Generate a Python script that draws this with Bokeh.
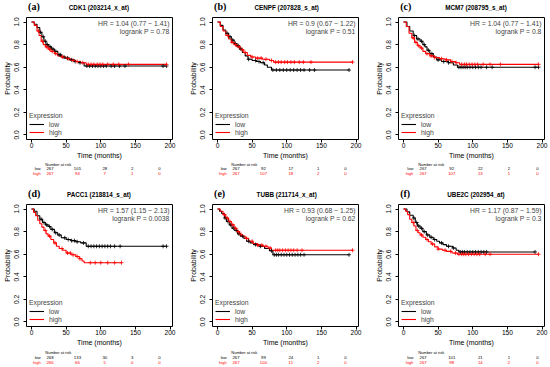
import numpy as np
from bokeh.plotting import figure
from bokeh.layouts import row, column
from bokeh.models import Range1d, FixedTicker, NumeralTickFormatter, Label
from bokeh.core.properties import value
from bokeh.embed import file_html
from bokeh.resources import INLINE

# ---------------- data ----------------
x_ticks = [0, 50, 100, 150, 200]
y_ticks = [0.0, 0.2, 0.4, 0.6, 0.8, 1.0]
risk_times = [0, 50, 100, 150, 200]

# (a) CDK1
a_low_t = [0, 4, 8, 12, 15, 18, 21, 25, 29, 33, 38, 43, 48, 55, 62, 68, 76, 195]
a_low_s = [1.0, 0.98, 0.95, 0.91, 0.87, 0.83, 0.80, 0.78, 0.76, 0.74, 0.71, 0.69, 0.68, 0.665, 0.65, 0.64, 0.61, 0.61]
a_high_t = [0, 4, 8, 11, 14, 17, 20, 24, 28, 33, 38, 43, 50, 57, 64, 71, 79, 195]
a_high_s = [1.0, 0.97, 0.92, 0.88, 0.83, 0.80, 0.78, 0.76, 0.74, 0.72, 0.70, 0.69, 0.675, 0.66, 0.65, 0.64, 0.625, 0.625]
a_low_cens = [13, 17, 20, 23, 27, 31, 35, 40, 42, 47, 52, 58, 63, 70, 80, 84, 88, 92, 96, 100, 104, 108, 115, 120, 127, 135, 190, 195]
a_high_cens = [10, 16, 22, 26, 30, 35, 45, 53, 60, 66, 74, 82, 86, 90, 95, 99, 103, 110, 118, 126, 140, 195]
a_risk_low = [267, 105, 28, 2, 0]
a_risk_high = [267, 94, 7, 1, 0]

# (b) CENPF
b_low_t = [0, 4, 8, 12, 16, 20, 24, 28, 32, 36, 40, 44, 50, 56, 62, 68, 72, 78, 190]
b_low_s = [1.0, 0.97, 0.93, 0.90, 0.87, 0.84, 0.81, 0.79, 0.76, 0.73, 0.70, 0.67, 0.66, 0.65, 0.64, 0.62, 0.60, 0.575, 0.575]
b_high_t = [0, 4, 8, 12, 16, 20, 24, 28, 33, 38, 43, 48, 55, 65, 75, 81, 195]
b_high_s = [1.0, 0.96, 0.92, 0.88, 0.85, 0.82, 0.80, 0.78, 0.755, 0.73, 0.705, 0.69, 0.68, 0.67, 0.66, 0.645, 0.645]
b_low_cens = [14, 18, 22, 26, 30, 34, 45, 55, 60, 66, 80, 85, 90, 95, 100, 105, 110, 115, 120, 125, 133, 140, 190]
b_high_cens = [15, 21, 26, 31, 36, 40, 50, 58, 63, 70, 78, 84, 88, 92, 97, 101, 106, 111, 118, 124, 135, 195]
b_risk_low = [267, 92, 17, 1, 0]
b_risk_high = [267, 107, 18, 2, 0]

# (c) MCM7
c_low_t = [0, 5, 9, 14, 19, 24, 28, 31, 34, 38, 43, 48, 55, 65, 72, 78, 195]
c_low_s = [1.0, 0.96, 0.92, 0.88, 0.85, 0.83, 0.80, 0.78, 0.75, 0.72, 0.69, 0.665, 0.65, 0.64, 0.62, 0.60, 0.60]
c_high_t = [0, 4, 8, 12, 16, 20, 24, 28, 32, 38, 45, 52, 60, 68, 75, 81, 195]
c_high_s = [1.0, 0.96, 0.90, 0.86, 0.82, 0.79, 0.77, 0.74, 0.72, 0.70, 0.685, 0.675, 0.665, 0.65, 0.64, 0.625, 0.625]
c_low_cens = [16, 21, 26, 30, 36, 41, 50, 58, 65, 80, 83, 86, 89, 92, 96, 100, 104, 108, 112, 120, 128, 190, 195]
c_high_cens = [14, 18, 22, 26, 34, 40, 45, 55, 62, 70, 76, 84, 88, 91, 95, 99, 103, 107, 115, 125, 140, 195]
c_risk_low = [267, 92, 22, 2, 0]
c_risk_high = [267, 107, 13, 1, 0]

# (d) PACC1
d_low_t = [0, 4, 8, 12, 16, 20, 24, 28, 33, 38, 43, 50, 57, 64, 71, 79, 195]
d_low_s = [1.0, 0.98, 0.94, 0.91, 0.88, 0.86, 0.845, 0.82, 0.79, 0.77, 0.745, 0.73, 0.72, 0.71, 0.70, 0.67, 0.67]
d_high_t = [0, 3, 6, 9, 12, 15, 18, 21, 24, 28, 32, 36, 40, 45, 50, 57, 64, 69, 73, 76, 130]
d_high_s = [1.0, 0.97, 0.94, 0.90, 0.87, 0.84, 0.81, 0.78, 0.76, 0.73, 0.70, 0.67, 0.65, 0.635, 0.61, 0.595, 0.58, 0.56, 0.54, 0.525, 0.525]
d_low_cens = [14, 18, 22, 26, 30, 35, 40, 48, 53, 58, 62, 66, 75, 82, 86, 90, 94, 98, 102, 106, 110, 114, 120, 128, 190, 195]
d_high_cens = [20, 26, 34, 44, 52, 56, 60, 66, 70, 85, 92, 100, 110, 120, 130]
d_risk_low = [268, 133, 30, 3, 0]
d_risk_high = [266, 66, 5, 0, 0]

# (e) TUBB
e_low_t = [0, 3, 6, 10, 13, 17, 21, 25, 29, 33, 38, 42, 47, 52, 60, 68, 75, 80, 190]
e_low_s = [1.0, 0.98, 0.96, 0.92, 0.89, 0.86, 0.83, 0.81, 0.78, 0.76, 0.74, 0.715, 0.70, 0.685, 0.67, 0.65, 0.63, 0.595, 0.595]
e_high_t = [0, 4, 8, 12, 16, 20, 24, 28, 32, 36, 40, 45, 51, 58, 66, 73, 78, 195]
e_high_s = [1.0, 0.98, 0.95, 0.92, 0.89, 0.86, 0.83, 0.80, 0.775, 0.76, 0.74, 0.715, 0.695, 0.68, 0.67, 0.655, 0.635, 0.635]
e_low_cens = [11, 15, 19, 23, 27, 31, 36, 45, 55, 62, 78, 82, 85, 88, 92, 96, 100, 104, 108, 112, 116, 120, 125, 190]
e_high_cens = [10, 14, 18, 22, 26, 30, 34, 42, 50, 58, 64, 70, 76, 84, 87, 90, 94, 98, 102, 106, 110, 115, 122, 195]
e_risk_low = [267, 99, 24, 1, 0]
e_risk_high = [267, 100, 11, 2, 0]

# (f) UBE2C
f_low_t = [0, 5, 9, 14, 17, 20, 24, 28, 33, 38, 43, 48, 52, 57, 62, 71, 76, 80, 190]
f_low_s = [1.0, 0.975, 0.945, 0.92, 0.88, 0.85, 0.83, 0.80, 0.77, 0.75, 0.73, 0.715, 0.70, 0.685, 0.67, 0.655, 0.635, 0.62, 0.62]
f_high_t = [0, 3, 6, 9, 12, 15, 18, 21, 24, 28, 32, 36, 40, 45, 50, 56, 62, 70, 78, 195]
f_high_s = [1.0, 0.98, 0.95, 0.91, 0.88, 0.85, 0.81, 0.79, 0.77, 0.75, 0.73, 0.71, 0.69, 0.665, 0.645, 0.635, 0.625, 0.61, 0.60, 0.60]
f_low_cens = [15, 19, 22, 26, 30, 35, 40, 45, 55, 65, 72, 82, 85, 88, 92, 96, 100, 104, 108, 112, 116, 120, 190]
f_high_cens = [14, 20, 26, 34, 42, 50, 60, 68, 75, 80, 84, 87, 90, 94, 98, 102, 106, 110, 118, 125, 195]
f_risk_low = [267, 101, 21, 1, 0]
f_risk_high = [267, 98, 14, 2, 0]

letters = ["(a)", "(b)", "(c)", "(d)", "(e)", "(f)"]
titles = ["CDK1   (203214_x_at)", "CENPF (207828_s_at)", "MCM7 (208795_s_at)",
          "PACC1   (218814_s_at)", "TUBB (211714_x_at)", "UBE2C (202954_at)"]
hr_texts = ["HR = 1.04 (0.77 \u2212 1.41)", "HR = 0.9 (0.67 \u2212 1.22)", "HR = 1.04 (0.77 \u2212 1.41)",
            "HR = 1.57 (1.15 \u2212 2.13)", "HR = 0.93 (0.68 \u2212 1.25)", "HR = 1.17 (0.87 \u2212 1.59)"]
p_texts = ["logrank P = 0.78", "logrank P = 0.51", "logrank P = 0.8",
           "logrank P = 0.0038", "logrank P = 0.62", "logrank P = 0.3"]
legend_title = "Expression"
group_labels = ["low", "high"]
risk_header = "Number at risk"

# ---------------- layout constants ----------------
X0, X1 = -7.2, 203.6
Y0, Y1 = -0.04, 1.04
FW, FH = 147, 124
TOP_H = 14
KM_TOP, KM_BOTTOM = 3, 20
SANS = "Liberation Sans"
SERIF = "Liberation Serif"
RED = "#FF0000"


def dx(px):
    return px * (X1 - X0) / FW


def step_at(t, s, c):
    idx = np.searchsorted(np.asarray(t), np.asarray(c), side="right") - 1
    return np.asarray(s)[idx]


def blank_fig(w, h, xr):
    p = figure(width=w, height=h, x_range=xr, y_range=Range1d(0, h),
               output_backend="svg", toolbar_location=None,
               x_axis_location=None, y_axis_location=None,
               min_border=0, min_border_left=0, min_border_right=0,
               min_border_top=0, min_border_bottom=0)
    p.xgrid.visible = False
    p.ygrid.visible = False
    p.outline_line_color = None
    p.background_fill_color = "white"
    p.border_fill_color = "white"
    return p


def txt(p, x, y, text, size, color="black", align="left", font=SANS, style="normal"):
    p.text(x=x, y=y, text=text, text_font=value(font), text_font_size=value(f"{size}px"),
           text_color=color, text_align=align, text_baseline="middle", text_font_style=style)


def panel(i, lt, ls, ht, hs, lc, hc, rl, rh, left, right, risk_h, risk_y):
    colw = left + FW + right
    # ---- header: panel letter + title ----
    top = blank_fig(colw, TOP_H, Range1d(0, colw))
    txt(top, [left + FW / 2 - 4], [TOP_H - 7.3], [titles[i]], 6.3, align="center", style="bold")
    txt(top, [left - 23], [TOP_H - 6.3], [letters[i]], 10, font=SERIF, style="bold")

    # ---- Kaplan-Meier plot ----
    p = figure(width=colw, height=KM_TOP + FH + KM_BOTTOM,
               x_range=Range1d(X0, X1), y_range=Range1d(Y0, Y1),
               output_backend="svg", toolbar_location=None,
               min_border_left=left, min_border_right=right,
               min_border_top=KM_TOP, min_border_bottom=KM_BOTTOM)
    p.xgrid.visible = False
    p.ygrid.visible = False
    p.outline_line_color = "black"
    p.outline_line_alpha = 1.0
    p.outline_line_width = 1
    p.background_fill_color = "white"
    p.border_fill_color = "white"

    for ax in (p.xaxis[0], p.yaxis[0]):
        ax.axis_line_color = None
        ax.major_tick_line_color = "black"
        ax.major_tick_out = 3
        ax.major_tick_in = 0
        ax.minor_tick_line_color = None
        ax.major_label_text_font = SANS
        ax.major_label_text_font_size = "6.6px"
        ax.major_label_text_color = "black"
        ax.axis_label_text_font = SANS
        ax.axis_label_text_font_size = "7px"
        ax.axis_label_text_font_style = "normal"
        ax.axis_label_text_color = "black"
    p.xaxis.ticker = FixedTicker(ticks=x_ticks)
    p.yaxis.ticker = FixedTicker(ticks=y_ticks)
    p.yaxis.formatter = NumeralTickFormatter(format="0.0")
    p.yaxis.major_label_orientation = "vertical"
    p.xaxis.axis_label = "Time (months)"
    p.yaxis.axis_label = "Probability"
    p.xaxis.major_label_standoff = 0
    p.xaxis.axis_label_standoff = 1
    p.yaxis.major_label_standoff = 4
    p.yaxis.axis_label_standoff = 1

    p.step(lt, ls, mode="after", line_color="black", line_width=1.1, legend_label=group_labels[0])
    p.step(ht, hs, mode="after", line_color=RED, line_width=1.1, legend_label=group_labels[1])
    p.scatter(lc, step_at(lt, ls, lc), marker="cross", size=4, line_color="black", line_width=0.8)
    p.scatter(hc, step_at(ht, hs, hc), marker="cross", size=4, line_color=RED, line_width=0.8)

    lg = p.legend[0]
    lg.title = legend_title
    lg.title_text_font = SANS
    lg.title_text_font_size = "6.8px"
    lg.title_text_font_style = "normal"
    lg.title_standoff = 1
    lg.label_text_font = SANS
    lg.label_text_font_size = "6.8px"
    lg.label_height = 8
    lg.glyph_height = 8
    lg.glyph_width = 15
    lg.label_standoff = 5
    lg.spacing = 0
    lg.padding = 0
    lg.margin = 3
    lg.location = "bottom_left"
    lg.border_line_color = None
    lg.background_fill_alpha = 0.0

    for yy, t in ((0.99, hr_texts[i]), (0.917, p_texts[i])):
        p.add_layout(Label(x=199.3, y=yy, text=t, text_font=SANS, text_font_size="6.8px",
                           text_align="right", text_baseline="middle"))

    # ---- number-at-risk table ----
    risk = blank_fig(colw, risk_h, Range1d(X0 - dx(left), X1 + dx(right)))
    y_hdr, y_low, y_high = [risk_h - v for v in risk_y]
    txt(risk, [X0 - dx(1)], [y_hdr], [risk_header], 4)
    txt(risk, [X0 - dx(7)], [y_low], [group_labels[0]], 4, align="right")
    txt(risk, [X0 - dx(7)], [y_high], [group_labels[1]], 4, color=RED, align="right")
    txt(risk, risk_times, [y_low] * len(risk_times), [str(n) for n in rl], 4.3, align="center")
    txt(risk, risk_times, [y_high] * len(risk_times), [str(n) for n in rh], 4.3, color=RED, align="center")
    return column(top, p, risk)


R1 = (3.0, 7.3, 11.7)
R2 = (3.5, 8.5, 14.0)
pa = panel(0, a_low_t, a_low_s, a_high_t, a_high_s, a_low_cens, a_high_cens, a_risk_low, a_risk_high, 25, 14, 26, R1)
pb = panel(1, b_low_t, b_low_s, b_high_t, b_high_s, b_low_cens, b_high_cens, b_risk_low, b_risk_high, 25, 14, 26, R1)
pc = panel(2, c_low_t, c_low_s, c_high_t, c_high_s, c_low_cens, c_high_cens, c_risk_low, c_risk_high, 25, 6, 26, R1)
pd = panel(3, d_low_t, d_low_s, d_high_t, d_high_s, d_low_cens, d_high_cens, d_risk_low, d_risk_high, 25, 14, 19, R2)
pe = panel(4, e_low_t, e_low_s, e_high_t, e_high_s, e_low_cens, e_high_cens, e_risk_low, e_risk_high, 25, 14, 19, R2)
pf = panel(5, f_low_t, f_low_s, f_high_t, f_high_s, f_low_cens, f_high_cens, f_risk_low, f_risk_high, 25, 6, 19, R2)

layout = column(row(pa, pb, pc), row(pd, pe, pf))
open("out.html", "w").write(file_html(layout, INLINE))
